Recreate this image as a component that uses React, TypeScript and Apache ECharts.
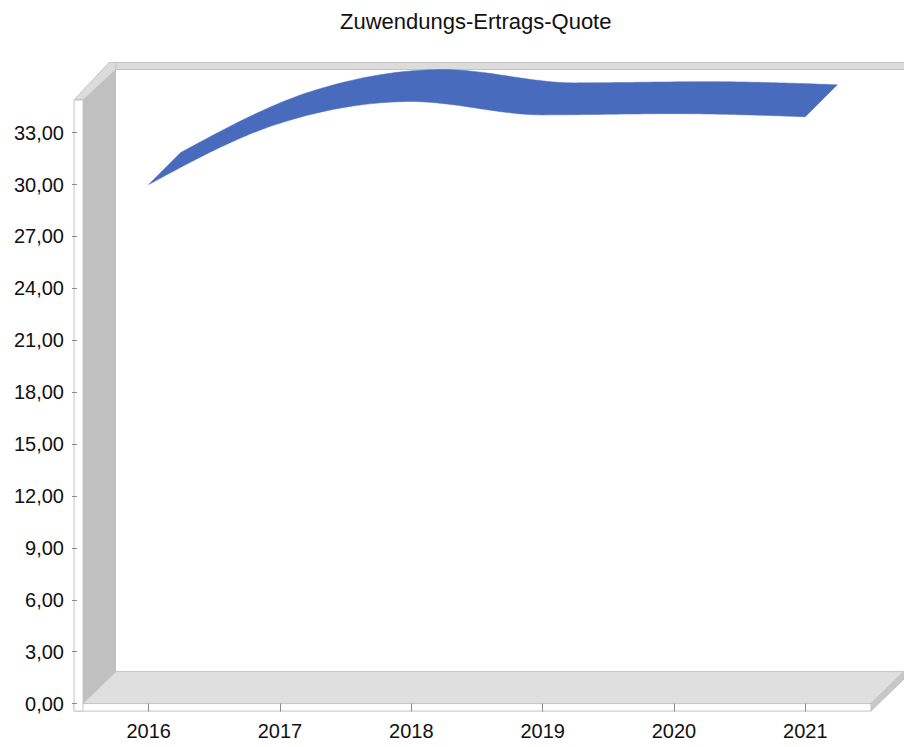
import React, { useEffect, useRef } from 'react';
import * as echarts from 'echarts';

// ---- data ----
const years: string[] = ['2016', '2017', '2018', '2019', '2020', '2021'];
const quote: number[] = [30.0, 33.55, 34.8, 34.03, 34.1, 33.92];
const yMin = 0;
const yMax = 34.89;
const yStep = 3;
const chartTitle = 'Zuwendungs-Ertrags-Quote';

// ---- layout ----
const GL = 83; // front plane left
const GT = 100; // front plane top
const GW = 788;
const GH = 603.6;
const GR = GL + GW;
const GB = GT + GH;
const DX = 33;
const DY = -32;
const RIB_DX = 32;
const RIB_DY = -32;
const FONT = 'Arial, "Liberation Sans", sans-serif';
const RIBBON = '#486bbd';

// cubic Hermite spline through pixel points: averaged tangents, flat at local extrema,
// natural end tangents
function spline(pts: number[][], segs: number): number[][] {
  const n = pts.length;
  const mx: number[] = [];
  const my: number[] = [];
  for (let i = 1; i < n - 1; i++) {
    mx[i] = (pts[i + 1][0] - pts[i - 1][0]) / 2;
    const a = pts[i][1] - pts[i - 1][1];
    const b = pts[i + 1][1] - pts[i][1];
    my[i] = a * b <= 0 ? 0 : (pts[i + 1][1] - pts[i - 1][1]) / 2;
  }
  mx[0] = 1.5 * (pts[1][0] - pts[0][0]) - 0.5 * mx[1];
  my[0] = 1.5 * (pts[1][1] - pts[0][1]) - 0.5 * my[1];
  mx[n - 1] = 1.5 * (pts[n - 1][0] - pts[n - 2][0]) - 0.5 * mx[n - 2];
  my[n - 1] = 1.5 * (pts[n - 1][1] - pts[n - 2][1]) - 0.5 * my[n - 2];
  const out: number[][] = [];
  for (let i = 0; i < n - 1; i++) {
    for (let s = 0; s < segs; s++) {
      const t = s / segs;
      const t2 = t * t, t3 = t2 * t;
      const h00 = 2 * t3 - 3 * t2 + 1;
      const h10 = t3 - 2 * t2 + t;
      const h01 = -2 * t3 + 3 * t2;
      const h11 = t3 - t2;
      out.push([
        h00 * pts[i][0] + h10 * mx[i] + h01 * pts[i + 1][0] + h11 * mx[i + 1],
        h00 * pts[i][1] + h10 * my[i] + h01 * pts[i + 1][1] + h11 * my[i + 1],
      ]);
    }
  }
  out.push(pts[n - 1]);
  return out;
}

export default function App() {
  const ref = useRef<HTMLDivElement>(null);
  useEffect(() => {
    if (!ref.current) return;
    const chart = echarts.init(ref.current, undefined, { renderer: 'svg' });
    const wallStroke = '#c4c4c4';
    const option: any = {
      animation: false,
      backgroundColor: '#ffffff',
      title: {
        text: chartTitle,
        left: 340,
        top: 10,
        padding: 0,
        textStyle: { fontFamily: FONT, fontSize: 22, fontWeight: 'normal', color: '#111111' },
      },
      grid: { left: GL, top: GT, width: GW, height: GH, containLabel: false },
      graphic: [
        // top band of back wall
        {
          type: 'rect', z: 0, silent: true,
          shape: { x: GL + DX - 7, y: GT + DY - 5.5, width: 820, height: 7 },
          style: { fill: '#dcdcdc', stroke: wallStroke, lineWidth: 1 },
        },
        // top bevel of side wall
        {
          type: 'polygon', z: 0, silent: true,
          shape: { points: [[74, GT], [GL + DX - 7, GT + DY - 5.5], [GL + DX, GT + DY - 5.5], [GL + DX, GT + DY + 1.5], [GL, GT]] },
          style: { fill: '#dcdcdc', stroke: wallStroke, lineWidth: 1 },
        },
        // side wall
        {
          type: 'polygon', z: 0, silent: true,
          shape: { points: [[GL, GT], [GL + DX, GT + DY + 1.5], [GL + DX, GB + DY], [GL, GB]] },
          style: { fill: '#c0c0c0' },
        },
        // floor
        {
          type: 'polygon', z: 0, silent: true,
          shape: { points: [[GL, GB], [GR, GB], [GR + DX, GB + DY], [GL + DX, GB + DY]] },
          style: { fill: '#dfdfdf', stroke: wallStroke, lineWidth: 1 },
        },
        // floor right thickness
        {
          type: 'polygon', z: 0, silent: true,
          shape: { points: [[GR, GB], [GR + DX, GB + DY], [GR + DX, GB + DY + 7.5], [GR, GB + 7.5]] },
          style: { fill: '#c8c8c8', stroke: wallStroke, lineWidth: 1 },
        },
        // bottom front strip
        {
          type: 'rect', z: 0, silent: true,
          shape: { x: 74, y: GB, width: GR - 74, height: 7.5 },
          style: { fill: '#ffffff', stroke: wallStroke, lineWidth: 1 },
        },
        // left front strip
        {
          type: 'rect', z: 0, silent: true,
          shape: { x: 74, y: GT, width: GL - 74, height: GH + 7.5 },
          style: { fill: '#ffffff', stroke: wallStroke, lineWidth: 1 },
        },
      ],
      xAxis: {
        type: 'category',
        data: years,
        boundaryGap: true,
        z: 5,
        axisLine: { show: false },
        axisTick: { show: true, alignWithLabel: true, length: 8, lineStyle: { color: '#8c8c8c' } },
        axisLabel: { margin: 17, fontFamily: FONT, fontSize: 20, color: '#111111' },
        splitLine: { show: false },
      },
      yAxis: {
        type: 'value',
        min: yMin,
        max: yMax,
        interval: yStep,
        offset: 6,
        z: 5,
        axisLine: { show: false },
        axisTick: { show: true, length: 5, lineStyle: { color: '#8c8c8c' } },
        axisLabel: {
          margin: 13,
          showMaxLabel: false,
          fontFamily: FONT,
          fontSize: 20,
          color: '#111111',
          formatter: (v: number) => v.toFixed(2).replace('.', ','),
        },
        splitLine: { show: false },
      },
      series: [
        {
          type: 'custom',
          z: 10,
          data: quote.map((v, i) => [i, v]),
          encode: { x: 0, y: 1 },
          renderItem: (params: any, api: any) => {
            if (params.dataIndex !== 0) return null;
            const pts = quote.map((v, i) => api.coord([i, v]));
            const front = spline(pts, 30);
            const back = front.map(([x, y]) => [x + RIB_DX, y + RIB_DY]).reverse();
            return {
              type: 'polygon',
              shape: { points: front.concat(back) },
              style: { fill: RIBBON, stroke: RIBBON, lineWidth: 0.5 },
            };
          },
        },
      ],
    };
    chart.setOption(option);
    return () => chart.dispose();
  }, []);
  return <div ref={ref} style={{ position: 'fixed', left: 0, top: 0, width: 904, height: 747 }} />;
}
